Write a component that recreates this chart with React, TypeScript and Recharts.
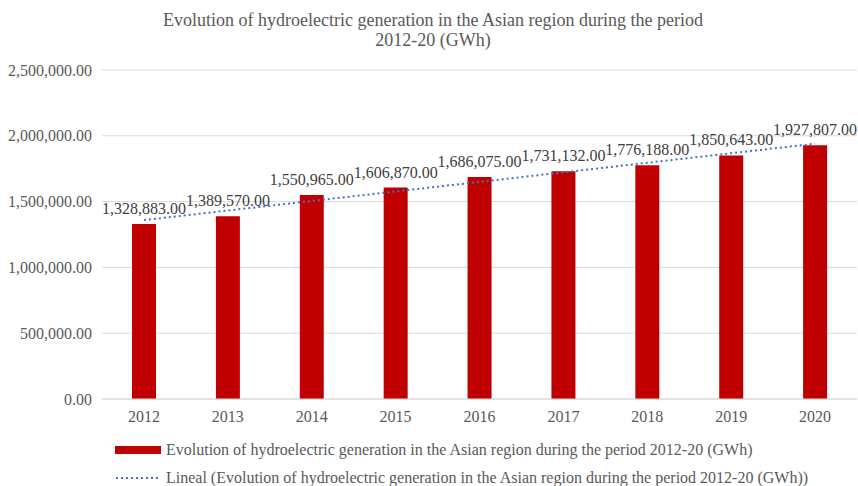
import React from "react";
import {
  ComposedChart,
  Bar,
  Line,
  XAxis,
  YAxis,
  CartesianGrid,
  LabelList,
} from "recharts";

const years = ["2012", "2013", "2014", "2015", "2016", "2017", "2018", "2019", "2020"];
const generation = [1328883, 1389570, 1550965, 1606870, 1686075, 1731132, 1776188, 1850643, 1927807];
// linear trend
const trend = [1359551, 1432112, 1504672, 1577233, 1649793, 1722353, 1794913, 1867474, 1940034];
const yTicks = [0, 500000, 1000000, 1500000, 2000000, 2500000];

const seriesName =
  "Evolution of hydroelectric generation in the Asian region during the period 2012-20 (GWh)";

const data = years.map((year, i) => ({
  year,
  generation: generation[i],
  trend: trend[i],
}));

const FONT = '"Liberation Serif", "Times New Roman", serif';
const TEXT = "#595959";

const fmt = (v: number) =>
  v.toLocaleString("en-US", { minimumFractionDigits: 2, maximumFractionDigits: 2 });

export default function App() {
  return (
    <div
      style={{
        position: "absolute",
        left: 0,
        top: 0,
        width: 858,
        height: 486,
        overflow: "hidden",
        background: "#fff",
        fontFamily: FONT,
      }}
    >
      <div
        style={{
          position: "absolute",
          left: 0,
          top: 10,
          width: 866,
          textAlign: "center",
          fontSize: 18,
          lineHeight: "20px",
          color: TEXT,
        }}
      >
        Evolution of hydroelectric generation in the Asian region during the period
        <br />
        2012-20 (GWh)
      </div>
      <ComposedChart
        width={858}
        height={486}
        data={data}
        margin={{ top: 70, right: 1, bottom: 57, left: 0 }}
        barCategoryGap={0}
        style={{ position: "absolute", left: 0, top: 0 }}
      >
        <CartesianGrid vertical={false} stroke="#d9d9d9" />
        <XAxis
          dataKey="year"
          axisLine={{ stroke: "#d9d9d9" }}
          tickLine={false}
          tickSize={0}
          tickMargin={12}
          tick={{ fontSize: 16, fill: TEXT, fontFamily: FONT }}
        />
        <YAxis
          width={102}
          domain={[0, 2500000]}
          ticks={yTicks}
          axisLine={false}
          tickLine={false}
          tickSize={0}
          tickMargin={10}
          tickFormatter={fmt}
          tick={{ fontSize: 16, fill: TEXT, fontFamily: FONT }}
        />
        <Bar dataKey="generation" fill="#c00000" barSize={24} isAnimationActive={false}>
          <LabelList
            dataKey="generation"
            position="top"
            offset={10}
            formatter={(v: number) => fmt(v)}
            style={{ fontSize: 16, fill: "#404040", fontFamily: FONT }}
          />
        </Bar>
        <Line
          dataKey="trend"
          stroke="#4472c4"
          strokeWidth={2}
          strokeDasharray="2 3"
          dot={false}
          activeDot={false}
          isAnimationActive={false}
        />
      </ComposedChart>
      <div
        style={{
          position: "absolute",
          left: 115,
          top: 438,
          fontSize: 16,
          color: TEXT,
        }}
      >
        <div style={{ display: "flex", alignItems: "center", height: 24 }}>
          <svg width={47} height={10} style={{ marginRight: 4 }}>
            <rect x={0} y={1} width={46} height={8} fill="#c00000" />
          </svg>
          <span>{seriesName}</span>
        </div>
        <div style={{ display: "flex", alignItems: "center", height: 32 }}>
          <svg width={47} height={10} style={{ marginRight: 4 }}>
            <line
              x1={1}
              y1={5}
              x2={46}
              y2={5}
              stroke="#4472c4"
              strokeWidth={2}
              strokeDasharray="2 3"
            />
          </svg>
          <span>Lineal ({seriesName})</span>
        </div>
      </div>
    </div>
  );
}
